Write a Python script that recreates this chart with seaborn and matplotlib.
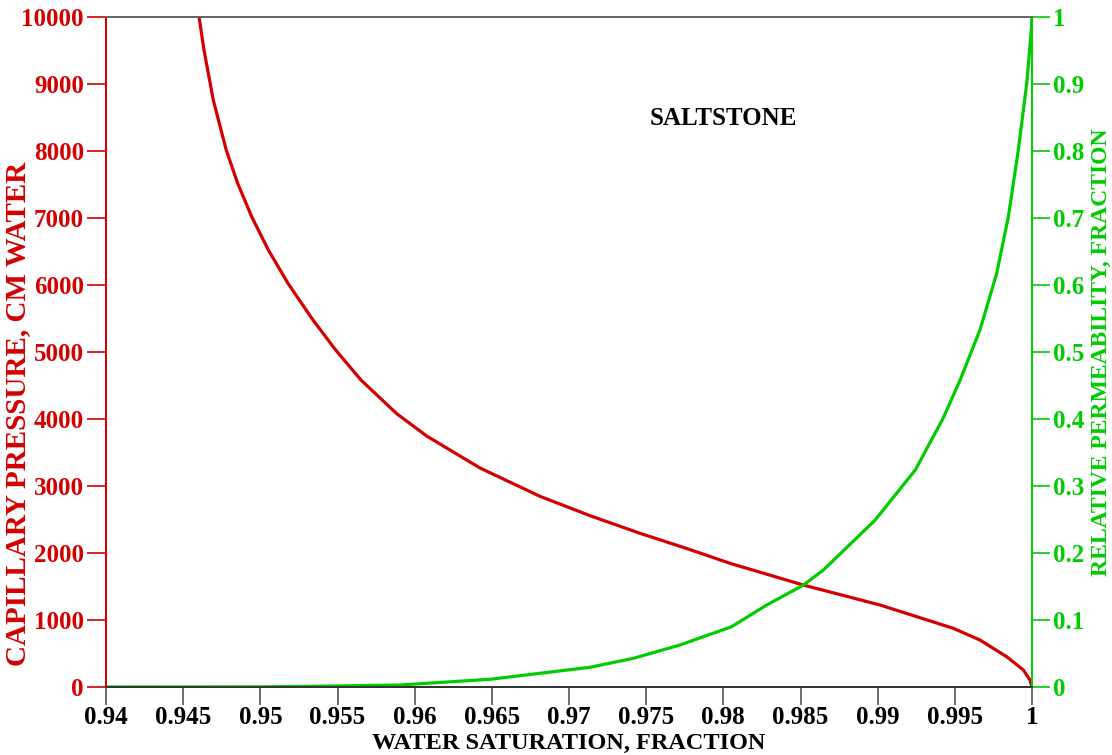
import matplotlib
matplotlib.use("Agg")
import matplotlib.pyplot as plt
import seaborn as sns
import pandas as pd

# ---- data ----
sat_pc = [0.94603, 0.94635, 0.94695, 0.94779, 0.94853, 0.94944, 0.95052, 0.95179,
          0.95341, 0.95488, 0.95652, 0.95884, 0.96078, 0.96423, 0.96812, 0.97136,
          0.97460, 0.97719, 0.97849, 0.98043, 0.98518, 0.99015, 0.99490, 0.99663,
          0.99836, 0.99944, 0.99987, 1.0]
cap_pressure = [10000, 9507, 8761, 8015, 7518, 7019, 6522, 6025,
                5478, 5030, 4582, 4079, 3746, 3269, 2846, 2557,
                2294, 2100, 2000, 1846, 1522, 1224, 876, 701,
                452, 254, 104, 0]

sat_kr = [0.94, 0.95, 0.9547, 0.95905, 0.96488, 0.97136, 0.97417, 0.97719,
          0.98054, 0.98281, 0.98518, 0.98648, 0.98983, 0.99244, 0.99424, 0.99534,
          0.99663, 0.99771, 0.99847, 0.99911, 0.99966, 0.99994, 1.0]
rel_perm = [0.0, 0.0002, 0.0015, 0.003, 0.0115, 0.0294, 0.0428, 0.0627,
            0.090, 0.1224, 0.152, 0.1746, 0.249, 0.324, 0.401, 0.458,
            0.533, 0.617, 0.702, 0.801, 0.901, 0.976, 1.0]

x_ticks = [0.94, 0.945, 0.95, 0.955, 0.96, 0.965, 0.97, 0.975, 0.98, 0.985, 0.99, 0.995, 1.0]
x_ticklabels = ["0.94", "0.945", "0.95", "0.955", "0.96", "0.965", "0.97", "0.975",
                "0.98", "0.985", "0.99", "0.995", "1"]
y_ticks = [0, 1000, 2000, 3000, 4000, 5000, 6000, 7000, 8000, 9000, 10000]
y2_ticks = [0, 0.1, 0.2, 0.3, 0.4, 0.5, 0.6, 0.7, 0.8, 0.9, 1.0]
y2_ticklabels = ["0", "0.1", "0.2", "0.3", "0.4", "0.5", "0.6", "0.7", "0.8", "0.9", "1"]

RED = "#d40000"
GREEN = "#00cc00"

sns.set_style("white")
plt.rcParams['font.family'] = ['Liberation Serif', 'DejaVu Serif']
plt.rcParams['font.weight'] = 'bold'

fig = plt.figure(figsize=(11.12, 7.55), dpi=100)
ax = fig.add_axes([106/1112, 68/755, 926/1112, 670/755])
ax2 = ax.twinx()

df_pc = pd.DataFrame({"sw": sat_pc, "pc": cap_pressure})
df_kr = pd.DataFrame({"sw": sat_kr, "kr": rel_perm})

sns.lineplot(data=df_pc, x="sw", y="pc", ax=ax, color=RED, linewidth=2.3,
             sort=False, estimator=None)
sns.lineplot(data=df_kr, x="sw", y="kr", ax=ax2, color=GREEN, linewidth=2.3,
             sort=False, estimator=None)

ax.set_xlim(0.94, 1.0)
ax.set_ylim(0, 10000)
ax2.set_ylim(0, 1)

ax.set_xticks(x_ticks)
ax.set_xticklabels(x_ticklabels, fontsize=18, fontweight='bold', color='black')
ax.set_yticks(y_ticks)
ax.set_yticklabels([str(v) for v in y_ticks], fontsize=18, fontweight='bold', color=RED)
ax2.set_yticks(y2_ticks)
ax2.set_yticklabels(y2_ticklabels, fontsize=18, fontweight='bold', color=GREEN)

ax.tick_params(axis='x', direction='out', length=13, width=1.2, color='#555555', pad=1,
               bottom=True)
ax.tick_params(axis='y', direction='out', length=14, width=1.2, color=RED, pad=2, left=True)
ax2.tick_params(axis='y', direction='out', length=13, width=1.2, color=GREEN, pad=2, right=True)

for a in (ax, ax2):
    a.spines['top'].set_color('#666666')
    a.spines['bottom'].set_color('#333333')
    a.spines['left'].set_color(RED)
    a.spines['right'].set_color(GREEN)
    for s in a.spines.values():
        s.set_linewidth(1.3)
    a.grid(False)

ax.set_xlabel("WATER SATURATION, FRACTION", fontsize=17.5, fontweight='bold', color='black',
              va='center')
ax.xaxis.set_label_coords(0.5, -0.0836)
ax.set_ylabel("CAPILLARY PRESSURE, CM WATER", fontsize=21, fontweight='bold', color=RED,
              va='center')
ax.yaxis.set_label_coords(-0.096, 0.408)
ax2.set_ylabel("RELATIVE PERMEABILITY, FRACTION", fontsize=17, fontweight='bold',
               color=GREEN, rotation=90, va='center')
ax2.yaxis.set_label_coords(1.0745, 0.5)

ax.text(0.667, 0.849, "SALTSTONE", transform=ax.transAxes, ha='center', va='center',
        fontsize=18, fontweight='bold', color='black')

fig.savefig("out.png", dpi=100)
